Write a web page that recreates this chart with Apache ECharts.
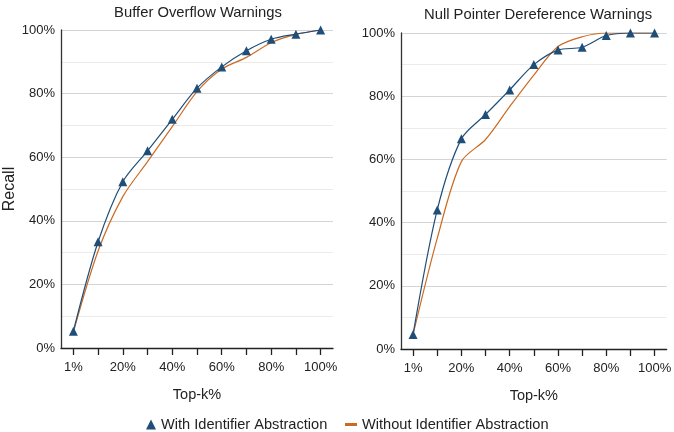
<!DOCTYPE html>
<html>
<head>
<meta charset="utf-8">
<script src="https://cdn.jsdelivr.net/npm/echarts@6/dist/echarts.min.js"></script>
<style>html,body{margin:0;padding:0;background:#fff}#c{width:674px;height:432px}</style>
</head>
<body>
<div id="c"></div>
<script>
const categories = ['1%','10%','20%','30%','40%','50%','60%','70%','80%','90%','100%'];
const bufferWith =    [5.3, 33.4, 52.3, 62.0, 71.9, 81.7, 88.4, 93.5, 97.1, 98.7, 100];
const bufferWithout = [5.0, 30.5, 47.6, 58.6, 69.6, 80.6, 87.7, 91.4, 96.0, 98.6, 100];
const nullWith =      [4.6, 44.0, 66.5, 74.2, 82.0, 90.0, 94.6, 95.5, 99.2, 100, 100];
const nullWithout =   [4.6, 35.0, 59.3, 66.3, 76.7, 86.7, 95.7, 98.8, 100, 100, 100];
const titles = ['Buffer Overflow Warnings', 'Null Pointer Dereference Warnings'];
const seriesNames = ['With Identifier Abstraction', 'Without Identifier Abstraction'];

const BLUE = '#1f4e79', ORANGE = '#cc6a22';
const FONT = 'Liberation Sans';
const chart = echarts.init(document.getElementById('c'));

function xAxis(i) {
  return {
    type: 'category', gridIndex: i, data: categories, boundaryGap: true,
    name: 'Top-k%', nameLocation: 'middle', nameGap: 39,
    nameTextStyle: {fontFamily: FONT, fontSize: 14.5, color: '#222'},
    axisLine: {lineStyle: {color: '#222', width: 1.3}},
    axisTick: {show: true, alignWithLabel: true, interval: 0, length: 7, lineStyle: {color: '#222', width: 1.3}},
    axisLabel: {interval: 1, margin: 13, fontFamily: FONT, fontSize: 13, color: '#222'}
  };
}
function yAxis(i) {
  return {
    type: 'value', gridIndex: i, min: 0, max: 100, interval: 20,
    name: i === 0 ? 'Recall' : '', nameLocation: 'middle', nameRotate: 90, nameGap: 40,
    nameTextStyle: {fontFamily: FONT, fontSize: 16, color: '#222'},
    axisLine: {show: true, lineStyle: {color: '#333', width: 1.3}},
    axisTick: {show: false},
    axisLabel: {formatter: '{value}%', margin: 6, fontFamily: FONT, fontSize: 13, color: '#222'},
    splitLine: {show: true, lineStyle: {color: '#d4d4d4', width: 1}},
    minorTick: {show: false, splitNumber: 2},
    minorSplitLine: {show: true, lineStyle: {color: '#ebebeb', width: 1}}
  };
}
function withSeries(i, data) {
  return {
    name: seriesNames[0], type: 'line', xAxisIndex: i, yAxisIndex: i, data: data,
    smooth: 0.3, symbol: 'triangle', symbolSize: 9, showAllSymbol: true,
    lineStyle: {color: BLUE, width: 1.2}, itemStyle: {color: BLUE}, z: 3
  };
}
function withoutSeries(i, data) {
  return {
    name: seriesNames[1], type: 'line', xAxisIndex: i, yAxisIndex: i, data: data,
    smooth: 0.3, symbol: 'none',
    lineStyle: {color: ORANGE, width: 1.2}, itemStyle: {color: ORANGE}, z: 2
  };
}

chart.setOption({
  animation: false,
  textStyle: {fontFamily: FONT},
  title: [
    {text: titles[0], left: 198, top: 5, textAlign: 'center', padding: 0,
     textStyle: {fontFamily: FONT, fontSize: 14.8, fontWeight: 'normal', color: '#222'}},
    {text: titles[1], left: 538, top: 7, textAlign: 'center', padding: 0,
     textStyle: {fontFamily: FONT, fontSize: 14.8, fontWeight: 'normal', color: '#222'}}
  ],
  legend: [
    {data: [seriesNames[0]], left: 141, top: 412, icon: 'triangle', itemWidth: 10, itemHeight: 10, itemGap: 6,
     textStyle: {fontFamily: FONT, fontSize: 14.6, color: '#222'}},
    {data: [seriesNames[1]], left: 340, top: 412, icon: 'rect', itemWidth: 12, itemHeight: 3, itemGap: 6,
     textStyle: {fontFamily: FONT, fontSize: 14.6, color: '#222'}}
  ],
  grid: [
    {left: 61, top: 30, width: 272, height: 318},
    {left: 401, top: 33, width: 270, height: 316}
  ],
  xAxis: [xAxis(0), xAxis(1)],
  yAxis: [yAxis(0), yAxis(1)],
  series: [
    withSeries(0, bufferWith), withoutSeries(0, bufferWithout),
    withSeries(1, nullWith), withoutSeries(1, nullWithout)
  ]
});
</script>
</body>
</html>
